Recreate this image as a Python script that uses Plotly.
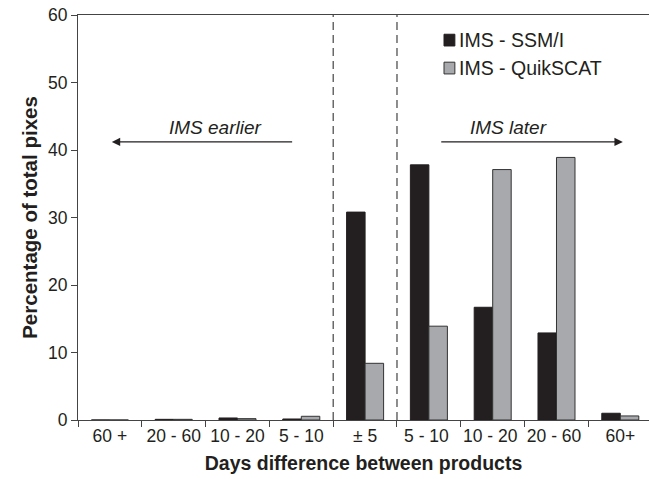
import plotly.graph_objects as go

categories = ["60 +", "20 - 60", "10 - 20", "5 - 10", "± 5", "5 - 10 ", "10 - 20 ", "20 - 60 ", "60+"]
ssmi = [0.0, 0.1, 0.3, 0.15, 30.8, 37.8, 16.7, 12.9, 1.0]
quikscat = [0.0, 0.1, 0.2, 0.55, 8.4, 13.9, 37.1, 38.9, 0.6]
series_names = ["IMS - SSM/I", "IMS - QuikSCAT"]
y_ticks = [0, 10, 20, 30, 40, 50, 60]

font_family = "Liberation Sans, Arial, Helvetica, sans-serif"
fill_colors = ["#231f20", "#a7a9ac"]
edge_colors = ["#231f20", "#333333"]

fig = go.Figure()
for name, vals, fc, ec in zip(series_names, [ssmi, quikscat], fill_colors, edge_colors):
    fig.add_trace(go.Bar(x=list(range(len(categories))), y=vals, name=name,
                         marker=dict(color=fc, line=dict(color=ec, width=1))))

# dashed separators
for xv in [3.5, 4.5]:
    fig.add_shape(type="line", x0=xv, x1=xv, y0=0, y1=60, xref="x", yref="y",
                  line=dict(color="#444444", width=1.2, dash="8px,5px"))

# arrows
fig.add_annotation(x=0.03, y=41.2, ax=2.88, ay=41.2, xref="x", yref="y", axref="x", ayref="y",
                   text="", showarrow=True, arrowhead=2, arrowsize=1.4, arrowwidth=1.2, arrowcolor="#231f20")
fig.add_annotation(x=8.04, y=41.2, ax=5.17, ay=41.2, xref="x", yref="y", axref="x", ayref="y",
                   text="", showarrow=True, arrowhead=2, arrowsize=1.4, arrowwidth=1.2, arrowcolor="#231f20")
fig.add_annotation(x=1.65, y=43.3, xref="x", yref="y", text="<i>IMS earlier</i>", showarrow=False,
                   font=dict(size=19, color="#231f20", family=font_family))
fig.add_annotation(x=6.24, y=43.3, xref="x", yref="y", text="<i>IMS later</i>", showarrow=False,
                   font=dict(size=19, color="#231f20", family=font_family))

# manual legend (paper coords)
leg_y = [0.938, 0.869]
for name, fc, ec, yc in zip(series_names, fill_colors, edge_colors, leg_y):
    fig.add_shape(type="rect", xref="paper", yref="paper", x0=0.641, x1=0.660,
                  y0=yc - 0.0145, y1=yc + 0.0145, fillcolor=fc, line=dict(color=ec, width=1))
    fig.add_annotation(xref="paper", yref="paper", x=0.664, y=yc, xanchor="left", yanchor="middle",
                       text=name, showarrow=False, font=dict(size=19.5, color="#231f20", family=font_family))

fig.update_layout(
    width=649, height=479,
    margin=dict(l=78, r=0, t=15, b=59),
    plot_bgcolor="white", paper_bgcolor="white",
    barmode="group", bargap=0.42, bargroupgap=0,
    font=dict(family=font_family, size=17, color="#231f20"),
    showlegend=False,
    xaxis=dict(range=[-0.5, 8.45], tickmode="array", tickvals=list(range(len(categories))),
               ticktext=categories, showline=True, linecolor="#444444", linewidth=1,
               mirror=True, ticks="", showgrid=False, zeroline=False, tickfont=dict(size=17.5),
               minor=dict(tickvals=[i - 0.5 for i in range(len(categories) + 1)],
                          ticks="outside", ticklen=6, tickcolor="#444444"),
               title=dict(text="<b>Days difference between products</b>", font=dict(size=19.5), standoff=11)),
    yaxis=dict(range=[0, 60], tickvals=y_ticks, showline=True, linecolor="#444444", linewidth=1,
               ticks="outside", ticklen=6, tickcolor="#444444", showgrid=False, zeroline=False,
               tickfont=dict(size=17.5),
               title=dict(text="<b>Percentage of total pixes</b>", font=dict(size=20.5), standoff=4)),
)

fig.write_html("out.html")
